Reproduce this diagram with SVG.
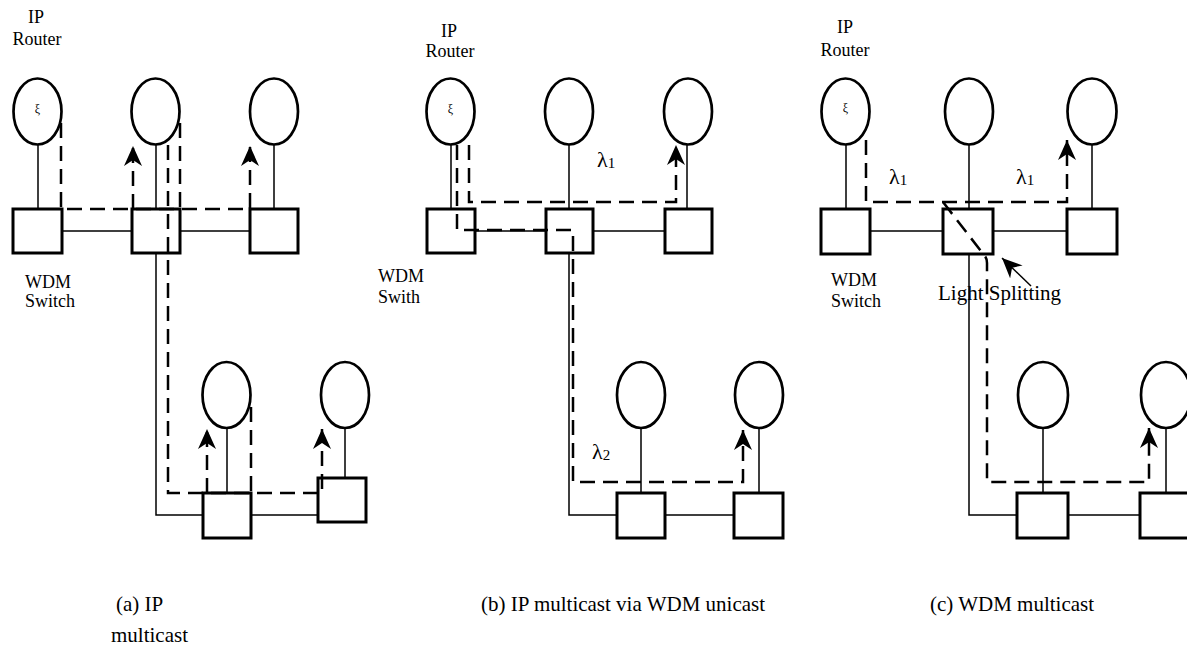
<svg xmlns="http://www.w3.org/2000/svg" width="1187" height="648" viewBox="0 0 1187 648">
<style>
.r{fill:#fff;stroke:#000;stroke-width:2.7}
.s{fill:#fff;stroke:#000;stroke-width:3}
.l{fill:none;stroke:#000;stroke-width:1.5}
.d{fill:none;stroke:#000;stroke-width:2.5;stroke-dasharray:15 8}
.t{font-family:"Liberation Serif","Times New Roman",serif;fill:#000}
.lbl{font-size:18px}
.cap{font-size:21px}
.xi{font-size:12px;text-anchor:middle}
.lam{font-size:22px}
</style>
<defs>
<marker id="ah" viewBox="0 0 20 18" refX="20" refY="9" markerWidth="20" markerHeight="18" markerUnits="userSpaceOnUse" orient="auto">
<path d="M20,9 L0,0 L6,9 L0,18 z" fill="#000"/>
</marker>
</defs>
<rect width="1187" height="648" fill="#fff"/>

<g id="connectors">
<!-- panel a solid -->
<path class="l" d="M38,145V209M156,145V209M274,145V209M62,231H132M180,231H250M156,253V515H203M251,515H322M227,428V493M345,428V493"/>
<!-- panel b solid -->
<path class="l" d="M451,145V209M569,145V209M687,145V209M475,231H546M593,231H665M569,253V515H617M665,515H734M641,428V493M759,428V493"/>
<!-- panel c solid -->
<path class="l" d="M846,145V209M969,145V209M1092,145V209M870,231H943M993,231H1067M969,254V515H1017M1068,515H1140M1043,428V493M1166,428V493"/>
</g>

<g id="routers-a">
<ellipse class="r" cx="37.5" cy="111.5" rx="24" ry="33"/>
<ellipse class="r" cx="155.5" cy="111.5" rx="24" ry="33"/>
<ellipse class="r" cx="274" cy="111.5" rx="24" ry="33"/>
<ellipse class="r" cx="226.5" cy="395" rx="24" ry="33"/>
<ellipse class="r" cx="345" cy="395" rx="24" ry="33"/>
</g>
<g id="switches-a">
<rect class="s" x="13" y="209" width="49" height="44"/>
<rect class="s" x="132" y="209" width="48" height="44"/>
<rect class="s" x="250" y="209" width="48" height="44"/>
<rect class="s" x="203" y="493" width="48" height="45"/>
<rect class="s" x="318" y="478" width="48" height="44"/>
</g>
<g id="routers-b">
<ellipse class="r" cx="450.5" cy="111.5" rx="24" ry="33"/>
<ellipse class="r" cx="569" cy="111.5" rx="24" ry="33"/>
<ellipse class="r" cx="688" cy="111.5" rx="24" ry="33"/>
<ellipse class="r" cx="641" cy="395" rx="24" ry="33"/>
<ellipse class="r" cx="759" cy="395" rx="24" ry="33"/>
</g>
<g id="switches-b">
<rect class="s" x="427" y="209" width="48" height="44"/>
<rect class="s" x="546" y="209" width="47" height="44"/>
<rect class="s" x="665" y="209" width="47" height="44"/>
<rect class="s" x="617" y="493" width="48" height="45"/>
<rect class="s" x="734" y="493" width="49" height="45"/>
</g>
<g id="routers-c">
<ellipse class="r" cx="845.5" cy="111.5" rx="24" ry="33"/>
<ellipse class="r" cx="969" cy="111.5" rx="24" ry="33"/>
<ellipse class="r" cx="1092" cy="111.5" rx="24.5" ry="33"/>
<ellipse class="r" cx="1043" cy="395" rx="25" ry="33"/>
<ellipse class="r" cx="1166" cy="395" rx="25" ry="33"/>
</g>
<g id="switches-c">
<rect class="s" x="821" y="209" width="49" height="45"/>
<rect class="s" x="943" y="209" width="50" height="45"/>
<rect class="s" x="1067" y="209" width="50" height="45"/>
<rect class="s" x="1017" y="493" width="51" height="45"/>
<rect class="s" x="1140" y="493" width="50" height="45"/>
</g>

<g id="paths">
<!-- a -->
<path class="d" d="M61,123V209H250V146" marker-end="url(#ah)"/>
<path class="d" d="M133,209V146" marker-end="url(#ah)"/>
<path class="d" d="M180,123V209"/>
<path class="d" d="M168,145V493H322V429" marker-end="url(#ah)"/>
<path class="d" d="M207,493V429" marker-end="url(#ah)"/>
<path class="d" d="M251,407V493"/>
<!-- b -->
<path class="d" d="M457,145V230H573V482H743V430" marker-end="url(#ah)"/>
<path class="d" d="M469,145V202H676V145" marker-end="url(#ah)"/>
<!-- c -->
<path class="d" d="M866,140V202H1067V140" marker-end="url(#ah)"/>
<path class="d" d="M943,202L984,255Q987,258 987,263V482H1149V428" marker-end="url(#ah)"/>
<path class="l" d="M1031,286L1002,258" stroke-width="2" marker-end="url(#ah)"/>
</g>

<g id="labels">
<text class="t xi" x="37.5" y="113">ξ</text>
<text class="t xi" x="450.5" y="113">ξ</text>
<text class="t xi" x="845.5" y="112">ξ</text>
<text class="t lbl" x="36" y="23" text-anchor="middle">IP</text>
<text class="t lbl" x="37" y="45" text-anchor="middle">Router</text>
<text class="t lbl" x="449" y="37" text-anchor="middle">IP</text>
<text class="t lbl" x="450" y="57" text-anchor="middle">Router</text>
<text class="t lbl" x="845" y="33" text-anchor="middle">IP</text>
<text class="t lbl" x="845" y="56" text-anchor="middle">Router</text>
<text class="t lbl" x="25" y="288">WDM</text>
<text class="t lbl" x="25" y="307">Switch</text>
<text class="t lbl" x="378" y="282">WDM</text>
<text class="t lbl" x="378" y="303">Swith</text>
<text class="t lbl" x="831" y="286">WDM</text>
<text class="t lbl" x="831" y="307">Switch</text>
<text class="t cap" x="938" y="300">Light Splitting</text>
<text class="t lam" x="597" y="167">λ<tspan font-size="15" dy="1">1</tspan></text>
<text class="t lam" x="592" y="459">λ<tspan font-size="15" dy="1">2</tspan></text>
<text class="t lam" x="889" y="184">λ<tspan font-size="15" dy="1">1</tspan></text>
<text class="t lam" x="1016" y="184">λ<tspan font-size="15" dy="1">1</tspan></text>
<text class="t cap" x="116" y="611">(a) IP</text>
<text class="t cap" x="111" y="642">multicast</text>
<text class="t cap" x="481" y="611">(b) IP multicast via WDM unicast</text>
<text class="t cap" x="930" y="611">(c) WDM multicast</text>
</g>
</svg>
